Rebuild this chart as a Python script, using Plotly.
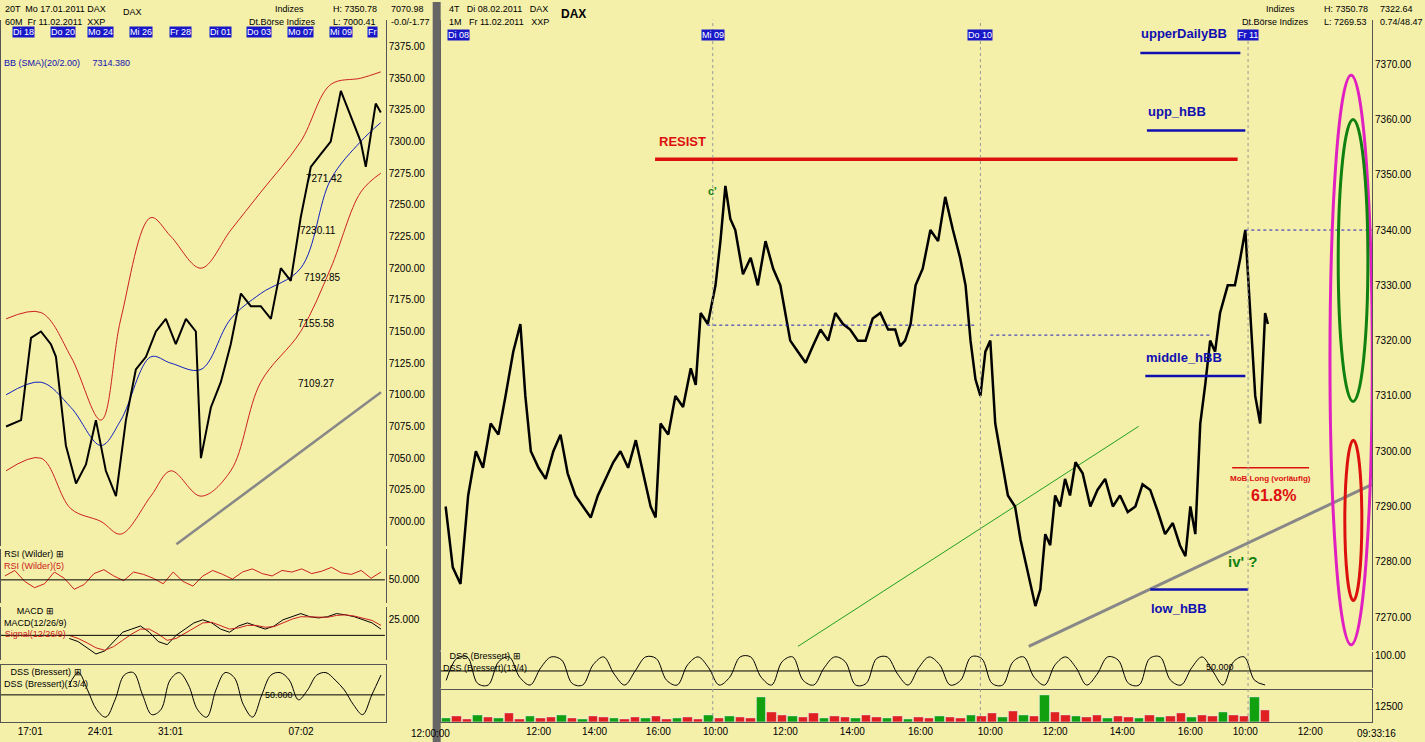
import plotly.graph_objects as go

W, H = 1425, 742
BG = "#f4efa9"

# ---------- right panel (10-min bars, DAX 08.02-11.02.2011) ----------
r_idx = [0.9, 2.2, 3.6, 5.0, 6.4, 7.7, 9.1, 10.5, 11.8, 13.2, 14.5, 15.4, 16.4, 17.8, 19.1, 20.5, 21.8, 23.1,
         24.5, 25.9, 27.3, 28.6, 30, 31.4, 32.7, 34.1, 35.5, 36.8, 38.2, 39.1, 40, 41.4, 42.7, 44.1, 45.5, 46.4,
         47.3, 48.6, 50, 50.9, 51.8, 52.7, 53.6, 55, 56.4, 57.7, 59.1, 60.5, 61.8, 62.7, 63.6, 65, 66.4, 67.7,
         69.1, 70.5, 71.8, 73.2, 74.5, 75.9, 77.3, 78.6, 80, 81.4, 82.7, 83.6, 84.5, 85.5, 86.4, 87.7, 89.1,
         90.5, 91.8, 93.2, 94.5, 95.5, 96.4, 97.3, 98.2, 99.1, 100, 100.9, 101.8, 103.2, 104.5, 105.5, 106.4,
         107.3, 108.2, 109.1, 110, 110.9, 111.8, 112.7, 113.6, 114.5, 115.5, 116.8, 118.2, 119.5, 120.9, 122.3,
         123.6, 125, 126.4, 127.7, 129.1, 130.5, 131.8, 133.2, 134.5, 135.5, 136.4, 137.3, 138.2, 139.1, 140,
         140.9, 141.8, 143.2, 144.5, 145.5, 146.4, 147.3, 148.2, 149.1, 150, 150.5]
r_close = [7290, 7279, 7276, 7292, 7300, 7297, 7305, 7303, 7310, 7318, 7323, 7310, 7300, 7297, 7295, 7300, 7303, 7296,
           7292, 7290, 7288, 7292, 7295, 7298, 7300, 7297, 7302, 7296, 7290, 7288, 7305, 7303, 7310, 7308, 7315, 7312,
           7325, 7323, 7330, 7338, 7348, 7342, 7340, 7332, 7335, 7330, 7338, 7333, 7330, 7325, 7320, 7318, 7316, 7319,
           7322, 7320, 7325, 7323, 7322, 7320, 7320, 7324, 7325, 7322, 7322, 7319, 7320, 7323, 7330, 7333, 7340,
           7338, 7346, 7340, 7335, 7330, 7320, 7313, 7310, 7318, 7320, 7305, 7300, 7292, 7290, 7284, 7280,
           7276, 7272, 7275, 7285, 7283, 7292, 7290, 7295, 7292, 7298, 7296, 7290, 7293, 7295, 7290,
           7292, 7289, 7290, 7294, 7293, 7289, 7285, 7287, 7283, 7281, 7290, 7285, 7305, 7312, 7320,
           7318, 7325, 7330, 7330, 7335, 7340, 7325, 7310, 7305, 7325, 7323]

r_tickvals = [17.8, 28, 39.6, 50, 62.7, 74.9, 87.3, 100, 111.8, 124, 136.4, 146.4, 158.2]
r_ticktext = ["12:00", "14:00", "16:00", "10:00", "12:00", "14:00", "16:00", "10:00", "12:00", "14:00", "16:00",
              "10:00", "12:00"]
r_days = ["Di 08", "Mi 09", "Do 10", "Fr 11"]
r_day_pos = [3.3, 49.5, 98.2, 146.9]

dss_r = [20, 90, 95, 10, 5, 80, 95, 30, 5, 60, 95, 85, 10, 5, 70, 95, 40, 5, 50, 95, 90, 20, 5, 70, 95, 60, 5, 30,
         95, 95, 30, 5, 80, 95, 20, 5, 60, 95, 80, 5, 10, 90, 95, 40, 5, 60, 95, 70, 5, 20, 95, 90, 10, 5, 80, 95,
         30, 5, 70, 95, 60, 5, 40, 95, 85, 10, 5, 90, 95, 20, 5, 60, 95, 50, 5, 80, 95, 20, 5]
vol_r = [3, 5, 2, 6, 4, 3, 7, 2, 5, 3, 4, 6, 3, 2, 5, 4, 3, 2, 4, 3, 5, 2, 3, 4, 2, 6, 3, 5, 4, 3, 20, 8, 6, 5, 4,
         7, 3, 5, 4, 3, 6, 4, 3, 5, 2, 4, 3, 5, 4, 3, 6, 5, 7, 4, 9, 6, 5, 22, 8, 6, 5, 4, 6, 3, 5, 4, 3, 6, 4, 5,
         7, 4, 6, 5, 8, 6, 5, 20, 10]
vol_up = [1, 0, 0, 1, 0, 1, 0, 0, 1, 0, 0, 1, 0, 1, 0, 0, 1, 0, 0, 1, 0, 0, 1, 0, 0, 1, 0, 1, 0, 0, 1, 0, 0, 1, 0,
          0, 1, 0, 0, 1, 0, 0, 1, 0, 1, 0, 0, 1, 0, 0, 1, 0, 0, 1, 0, 1, 0, 1, 0, 0, 1, 0, 0, 1, 0, 0, 1, 0, 1, 0,
          0, 1, 0, 0, 1, 0, 0, 1, 0]

# ---------- left panel (60-min bars, 17.01-11.02) ----------
l_day = [0.26, 1.03, 1.54, 2.05, 2.56, 2.82, 3.33, 3.85, 4.36, 4.87, 5.38, 5.9, 6.41, 6.92, 7.44, 7.95, 8.46,
         8.97, 9.49, 10.0, 10.26, 10.77, 11.28, 11.79, 12.31, 12.82, 13.33, 13.85, 14.36, 14.87, 15.38, 15.9,
         16.41, 16.92, 17.44, 17.95, 18.46, 18.72, 19.23, 19.49]
l_close = [7075, 7080, 7145, 7150, 7140, 7130, 7060, 7030, 7045, 7080, 7040, 7020, 7080, 7120, 7130, 7150, 7160,
           7140, 7160, 7150, 7050, 7090, 7110, 7140, 7180, 7170, 7170, 7160, 7200, 7190, 7240, 7280, 7290, 7300,
           7340, 7320, 7300, 7280, 7330, 7323]
band_day = [0.26, 2.05, 3.59, 5.13, 6.15, 7.69, 8.72, 10.26, 11.79, 13.33, 15.38, 16.92, 18.46, 19.49]
band_up = [7160, 7165, 7130, 7080, 7160, 7240, 7225, 7200, 7230, 7260, 7300, 7345, 7350, 7355]
band_mid = [7100, 7110, 7090, 7060, 7080, 7130, 7125, 7120, 7160, 7180, 7200, 7270, 7300, 7315]
band_lo = [7040, 7050, 7010, 7000, 6990, 7020, 7040, 7020, 7040, 7110, 7150, 7200, 7260, 7275]
rsi_l = [55, 62, 48, 40, 45, 60, 52, 38, 44, 58, 63, 55, 49, 60, 57, 52, 45, 60, 48, 42, 55, 62, 57, 51, 60, 64,
         58, 55, 62, 60, 64, 58, 61, 66, 59, 57, 62, 52, 60]
macd_l = [-5, -10, -20, -30, -25, -10, 5, 10, 15, 5, -10, -15, 0, 10, 20, 25, 20, 10, 5, 15, 20, 15, 10, 15, 25,
          30, 35, 30, 28, 30, 35, 33, 30, 25, 20, 10]
sig_l = [0, -5, -12, -20, -24, -18, -8, 2, 10, 10, 2, -8, -5, 3, 12, 20, 21, 16, 10, 12, 16, 16, 13, 14, 20, 26,
         30, 30, 29, 29, 32, 33, 31, 28, 24, 16]
dss_l = [70, 95, 60, 20, 5, 40, 90, 95, 50, 10, 20, 80, 95, 70, 20, 5, 60, 95, 85, 30, 5, 50, 90, 95, 80, 40, 60,
         90, 95, 80, 60, 30, 10, 50, 90]


def spread(vals, lo, hi):
    n = len(vals)
    return [lo + (hi - lo) * i / (n - 1) for i in range(n)]


fig = go.Figure()
px_day = 19.5
px_bar = 5.5
BOT = 1 - 722 / H

# left price
fig.add_trace(go.Scatter(x=band_day, y=band_up, xaxis="x", yaxis="y", mode="lines",
                         line=dict(color="#cc2020", width=1, shape="spline")))
fig.add_trace(go.Scatter(x=band_day, y=band_lo, xaxis="x", yaxis="y", mode="lines",
                         line=dict(color="#cc2020", width=1, shape="spline")))
fig.add_trace(go.Scatter(x=band_day, y=band_mid, xaxis="x", yaxis="y", mode="lines",
                         line=dict(color="#1020c0", width=1, shape="spline")))
fig.add_trace(go.Scatter(x=l_day, y=l_close, xaxis="x", yaxis="y", mode="lines",
                         line=dict(color="black", width=2)))
fig.add_trace(go.Scatter(x=[9, 19.5], y=[6982, 7102], xaxis="x", yaxis="y", mode="lines",
                         line=dict(color="#888", width=2.5)))
# left indicators
fig.add_trace(go.Scatter(x=spread(rsi_l, 0.2, 19.5), y=rsi_l, xaxis="x", yaxis="y2", mode="lines",
                         line=dict(color="#cc2020", width=1)))
fig.add_trace(go.Scatter(x=spread(macd_l, 3.5, 19.5), y=macd_l, xaxis="x", yaxis="y3", mode="lines",
                         line=dict(color="black", width=1)))
fig.add_trace(go.Scatter(x=spread(sig_l, 3.5, 19.5), y=sig_l, xaxis="x", yaxis="y3", mode="lines",
                         line=dict(color="#cc2020", width=1)))
fig.add_trace(go.Scatter(x=spread(dss_l, 3.5, 19.5), y=dss_l, xaxis="x", yaxis="y4", mode="lines",
                         line=dict(color="black", width=1, shape="spline")))

# right price
fig.add_trace(go.Scatter(x=[65, 127], y=[7264.7, 7304.5], xaxis="x2", yaxis="y5", mode="lines",
                         line=dict(color="#20a020", width=1)))
fig.add_trace(go.Scatter(x=[107, 169.5], y=[7264.7, 7294], xaxis="x2", yaxis="y5", mode="lines",
                         line=dict(color="#888", width=3)))
fig.add_trace(go.Scatter(x=r_idx, y=r_close, xaxis="x2", yaxis="y5", mode="lines",
                         line=dict(color="black", width=2.5)))
fig.add_trace(go.Scatter(x=spread(dss_r, 1, 150), y=dss_r, xaxis="x2", yaxis="y6", mode="lines",
                         line=dict(color="black", width=1, shape="spline")))
fig.add_trace(go.Bar(x=spread(vol_r, 1, 150), y=vol_r, xaxis="x2", yaxis="y7",
                     marker_color=["#10a010" if u else "#e02020" for u in vol_up], width=1.7))

ax = dict(showgrid=False, zeroline=False, showline=True, linecolor="#555", mirror=True,
          tickfont=dict(size=10, family="Arial", color="black"), ticks="")
fig.update_layout(
    width=W, height=H, margin=dict(l=0, r=0, t=0, b=0), paper_bgcolor=BG, plot_bgcolor=BG,
    showlegend=False, bargap=0,
    xaxis=dict(ax, domain=[0, 385 / W], range=[0, 385 / px_day], tickvals=[1.5, 5.1, 8.7, 15.4],
               ticktext=["17:01", "24:01", "31:01", "07:02"], anchor="y4"),
    xaxis2=dict(ax, domain=[440 / W, 1372 / W], range=[0, 932 / px_bar], tickvals=r_tickvals,
                ticktext=r_ticktext, anchor="y7"),
    yaxis=dict(ax, domain=[1 - 545 / H, 1 - 18 / H], range=[6981, 7396], side="right",
               tickvals=list(range(7000, 7376, 25)), tickformat=".2f", anchor="x"),
    yaxis2=dict(ax, domain=[1 - 603 / H, 1 - 548 / H], range=[20, 90], side="right", tickvals=[50],
                tickformat=".3f", anchor="x"),
    yaxis3=dict(ax, domain=[1 - 660 / H, 1 - 607 / H], range=[-40, 45], side="right", tickvals=[25],
                ticktext=["25.000"], anchor="x"),
    yaxis4=dict(ax, domain=[BOT, 1 - 665 / H], range=[-5, 110], side="right", showticklabels=False,
                anchor="x"),
    yaxis5=dict(ax, domain=[1 - 650 / H, 1 - 18 / H], range=[7264, 7378], side="right",
                tickvals=list(range(7270, 7371, 10)), tickformat=".2f", anchor="x2"),
    yaxis6=dict(ax, domain=[1 - 688 / H, 1 - 652 / H], range=[-5, 110], side="right", tickvals=[100],
                ticktext=["100.00"], anchor="x2"),
    yaxis7=dict(ax, domain=[BOT, 1 - 690 / H], range=[0, 26], side="right", tickvals=[13],
                ticktext=["12500"], anchor="x2"),
)

shapes = [
    dict(type="rect", xref="paper", yref="paper", x0=432 / W, x1=440 / W, y0=0, y1=1,
         fillcolor="#666", line_width=0),
    dict(type="line", xref="x", yref="y2", x0=0, x1=19.7, y0=50, y1=50, line=dict(color="black", width=1)),
    dict(type="line", xref="x", yref="y3", x0=0, x1=19.7, y0=0, y1=0, line=dict(color="black", width=1)),
    dict(type="line", xref="x", yref="y4", x0=0, x1=19.7, y0=50, y1=50, line=dict(color="black", width=1)),
    dict(type="line", xref="x2", yref="y6", x0=0, x1=169.5, y0=50, y1=50, line=dict(color="black", width=1)),
]
# horizontal levels
for x0, x1, yv, col, w in [(39, 145, 7352.8, "#dd1010", 3.5), (127.3, 145.5, 7372, "#1010b0", 2.5),
                           (128.5, 146.4, 7358, "#1010b0", 2.5), (128.2, 146.4, 7313.6, "#1010b0", 2.5),
                           (129.1, 146.9, 7275, "#1010b0", 2.5), (144, 158, 7297, "#dd1010", 1.5)]:
    shapes.append(dict(type="line", xref="x2", yref="y5", x0=x0, x1=x1, y0=yv, y1=yv,
                       line=dict(color=col, width=w)))
for x0, x1, yv in [(48.5, 97.3, 7322.8), (100, 140, 7321), (146.4, 169.5, 7340)]:
    shapes.append(dict(type="line", xref="x2", yref="y5", x0=x0, x1=x1, y0=yv, y1=yv,
                       line=dict(color="#2020c0", width=1, dash="dot")))
for p in r_day_pos[1:]:
    shapes.append(dict(type="line", xref="x2", yref="paper", x0=p, x1=p, y0=BOT, y1=0.976,
                       line=dict(color="#999", width=1, dash="dot")))
# ellipses
for x0, x1, y0, y1, col in [(161.8, 169.5, 7265, 7368, "#e020c0"), (163.3, 168.7, 7309, 7360, "#108010"),
                            (164.5, 167.6, 7273, 7302, "#dd1010")]:
    shapes.append(dict(type="circle", xref="x2", yref="y5", x0=x0, x1=x1, y0=y0, y1=y1,
                       line=dict(color=col, width=3)))
fig.update_layout(shapes=shapes)

ann = []


def t(x, y, s, xr="x2", yr="y5", size=11, color="black", bold=False, anchor="left", bg=None):
    ann.append(dict(x=x, y=y, xref=xr, yref=yr, text=f"<b>{s}</b>" if bold else s, showarrow=False,
                    xanchor=anchor, yanchor="middle", font=dict(size=size, color=color, family="Arial"),
                    bgcolor=bg, borderpad=0))


t(39.6, 7356, "RESIST", size=13, color="#dd1010", bold=True)
t(127.3, 7375.5, "upperDailyBB", size=13, color="#1010b0", bold=True)
t(128.5, 7361.5, "upp_hBB", size=13, color="#1010b0", bold=True)
t(128.2, 7317, "middle_hBB", size=13, color="#1010b0", bold=True)
t(129.1, 7271.5, "low_hBB", size=13, color="#1010b0", bold=True)
t(151, 7295, "MoB Long (vorläufig)", size=8, color="#dd1010", bold=True, anchor="center")
t(151.5, 7292, "61.8%", size=16, color="#dd1010", bold=True, anchor="center")
t(143, 7280, "iv' ?", size=15, color="#108010", bold=True)
t(48.5, 7347, "c'", size=11, color="#108010", bold=True)
t(169.6, 7323.1, "-7323.10", size=10, bg="#d0d0d0")
t(19.75, 7323.1, "-7323.10", xr="x", yr="y", size=10, bg="#d0d0d0")
for x, y, s in [(15.6, 7271, "7271.42"), (15.3, 7230, "7230.11"), (15.5, 7193, "7192.85"),
                (15.2, 7156, "7155.58"), (15.2, 7109, "7109.27")]:
    t(x, y, s, xr="x", yr="y", size=10)
t(0.1, 7362, "BB (SMA)(20/2.00)     7314.380", xr="x", yr="y", size=9, color="#1010b0")
t(19.75, 59.5, "-59.502", xr="x", yr="y2", size=10, color="white", bg="#e01010")
t(19.75, -10, "-10.072", xr="x", yr="y3", size=10, color="white", bg="#e01010")
t(19.75, -25, "-8.856", xr="x", yr="y3", size=10, color="white", bg="black")
t(19.75, 50, "-55.438", xr="x", yr="y4", size=10, color="white", bg="black")
t(169.6, 50, "-20.737", xr="x2", yr="y6", size=10, color="white", bg="black")
t(0.1, 75, "RSI (Wilder) ⊞<br><span style='color:#cc2020'>RSI (Wilder)(5)</span>", xr="x", yr="y2", size=9)
t(0.1, 20, "MACD ⊞<br>MACD(12/26/9)<br><span style='color:#cc2020'>Signal(12/26/9)</span>", xr="x", yr="y3",
  size=9)
t(0.1, 85, "DSS (Bressert) ⊞<br>DSS (Bressert)(13/4)", xr="x", yr="y4", size=9)
t(13.5, 50, "50.000", xr="x", yr="y4", size=9)
t(0.2, 80, "DSS (Bressert) ⊞<br>DSS (Bressert)(13/4)", yr="y6", size=9)
t(139, 62, "50.000", yr="y6", size=9)
t(19.75, 6988, "(c)Tai-Pan", xr="x", yr="y", size=9)
t(169.6, 7376, "(c)Tai-Pan", size=9)
l_days = ["Di 18", "Do 20", "Mo 24", "Mi 26", "Fr 28", "Di 01", "Do 03", "Mo 07", "Mi 09", "Fr"]
l_day_pos = [1.13, 3.18, 5.13, 7.18, 9.23, 11.28, 13.23, 15.38, 17.44, 19.08]
for p, s in zip(l_day_pos, l_days):
    t(p, 7386.5, s, xr="x", yr="y", size=9, color="white", bg="#1818c8", anchor="center")
for p, s in zip(r_day_pos, r_days):
    t(p, 7375.3, s, size=9, color="white", bg="#1818c8", anchor="center")
# header lines
for x, y, s in [(2, 735, "20T  Mo 17.01.2011 DAX"), (2, 722, "60M  Fr 11.02.2011  XXP"),
                (272, 735, "Indizes"), (246, 722, "Dt.Börse Indizes"), (330, 735, "H: 7350.78"),
                (330, 722, "L: 7000.41"), (388, 735, "7070.98"), (388, 722, "-0.0/-1.77"),
                (446, 735, "4T   Di 08.02.2011   DAX"), (446, 722, "1M   Fr 11.02.2011   XXP"),
                (1264, 735, "Indizes"), (1240, 722, "Dt.Börse Indizes"), (1322, 735, "H: 7350.78"),
                (1322, 722, "L: 7269.53"), (1378, 735, "7322.64"), (1378, 722, "0.74/48.47"),
                (120, 732, "DAX")]:
    ann.append(dict(x=x / W, y=y / H, xref="paper", yref="paper", text=s, showarrow=False, xanchor="left",
                    yanchor="middle", font=dict(size=9, family="Arial", color="black")))
ann.append(dict(x=558 / W, y=730 / H, xref="paper", yref="paper", text="<b>DAX</b>", showarrow=False,
                xanchor="left", yanchor="middle", font=dict(size=12, family="Arial", color="black")))
ann.append(dict(x=1398 / W, y=9 / H, xref="paper", yref="paper", text="09:33:16", showarrow=False,
                yanchor="middle", font=dict(size=10, family="Arial", color="black")))
ann.append(dict(x=408 / W, y=9 / H, xref="paper", yref="paper", text="12:00:00", showarrow=False,
                yanchor="middle", font=dict(size=10, family="Arial", color="black")))
fig.update_layout(annotations=ann)

fig.write_html("out.html", config={"displayModeBar": False},
               post_script="document.body.style.margin='0';document.body.style.overflow='hidden';")
